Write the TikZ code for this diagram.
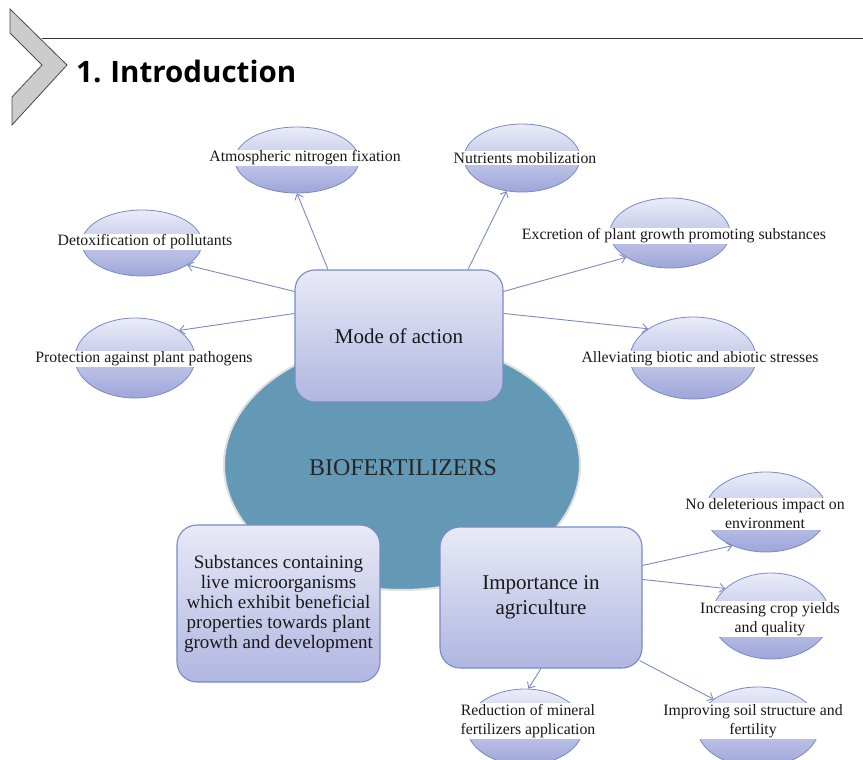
\documentclass[tikz,border=0pt]{standalone}
\usepackage{fontspec}
\setmainfont{Liberation Serif}
\newfontfamily\titlefont{Open Sans}
\usetikzlibrary{shapes.geometric,arrows.meta,shadings,calc}
\definecolor{lavtop}{RGB}{234,236,248}
\definecolor{lavbot}{RGB}{158,166,218}
\definecolor{lavline}{RGB}{122,138,196}
\definecolor{boxtop}{RGB}{232,234,247}
\definecolor{boxbot}{RGB}{176,182,224}
\definecolor{bioteal}{RGB}{100,153,181}
\definecolor{chevgray}{RGB}{204,204,204}
\begin{document}
\begin{tikzpicture}[x=1pt,y=-1pt,
  oval/.style={ellipse, draw=lavline, line width=0.8pt, top color=lavtop, bottom color=lavbot, inner sep=0pt},
  lbl/.style={fill=white, inner sep=1.2pt, font=\fontsize{15.8}{19}\selectfont, align=center, text=black!90},
  bigbox/.style={draw=lavline, line width=1.1pt, rounded corners=20pt, top color=boxtop, bottom color=boxbot, align=center, inner sep=0pt, text=black!90},
  arr/.style={draw=lavline, line width=0.9pt, -{Straight Barb[length=5pt,width=9pt]}}]
\useasboundingbox (0,0) rectangle (863,760);

% header
\draw[black!80, line width=1pt] (42,39) coordinate (hl) -- (863,39) coordinate (hr);
\filldraw[fill=chevgray, draw=black!70, line width=0.8pt] (10,9) -- (67,65) -- (12,125) -- (12,97) -- (42,65) -- (10,33) -- cycle;
\node[anchor=west, inner sep=0pt, font=\titlefont\bfseries\fontsize{29.5}{33}\selectfont] (title) at (76,71) {1.\hspace{9pt}Introduction};

% central ellipse
\node[ellipse, fill=bioteal, draw=black!12, line width=2pt, minimum width=356pt, minimum height=250pt] (bio) at (402,465) {};
\node[font=\fontsize{24}{28}\selectfont, text=black!85] (bioT) at (403,468) {BIOFERTILIZERS};

% boxes
\node[bigbox, minimum width=208pt, minimum height=132pt, font=\fontsize{21}{25}\selectfont] (mode) at (399,336) {Mode of action};
\node[bigbox, minimum width=203pt, minimum height=157pt, font=\fontsize{19}{20}\selectfont] (subs) at (278.5,603.5) {Substances containing\\live microorganisms\\which exhibit beneficial\\properties towards plant\\growth and development};
\node[bigbox, minimum width=202pt, minimum height=141pt, font=\fontsize{21}{25}\selectfont] (impo) at (541,597.5) {Importance in\\agriculture};

% small ellipses
\node[oval, minimum width=124pt, minimum height=66pt] (atmE) at (297,160) {};
\node[oval, minimum width=116pt, minimum height=68pt] (nutE) at (522,158) {};
\node[oval, minimum width=120pt, minimum height=66pt] (detE) at (142,243) {};
\node[oval, minimum width=120pt, minimum height=80pt] (proE) at (135,358) {};
\node[oval, minimum width=120pt, minimum height=70pt] (excE) at (670,233) {};
\node[oval, minimum width=126pt, minimum height=82pt] (allE) at (693,358) {};
\node[oval, minimum width=122pt, minimum height=80pt] (nodE) at (766,512) {};
\node[oval, minimum width=118pt, minimum height=86pt] (incE) at (771,616) {};
\node[oval, minimum width=116pt, minimum height=76pt] (redE) at (525,727) {};
\node[oval, minimum width=122pt, minimum height=80pt] (impE) at (758,727) {};

% labels
\node[lbl] (atmT) at (305,158) {Atmospheric nitrogen fixation};
\node[lbl] (nutT) at (525,158) {Nutrients mobilization};
\node[lbl] (detT) at (145,242) {Detoxification of pollutants};
\node[lbl] (proT) at (144,359) {Protection against plant pathogens};
\node[lbl] (excT) at (674,236) {Excretion of plant growth promoting substances};
\node[lbl] (allT) at (700,359) {Alleviating biotic and abiotic stresses};
\node[lbl] (nodT) at (765,514) {No deleterious impact on\\environment};
\node[lbl] (incT) at (770,619) {Increasing crop yields\\and quality};
\node[lbl] (redT) at (528,721) {Reduction of mineral\\fertilizers application};
\node[lbl] (impT) at (753,721) {Improving soil structure and\\fertility};

% connectors
\draw[arr] ($(mode.north)+(-71,0)$) -- (atmE.south);
\draw[arr] ($(mode.north)+(69,0)$) -- (nutE.-115);
\draw[arr] ($(mode.north west)+(0,22)$) -- (detE.-26);
\draw[arr] ($(mode.north west)+(0,44)$) -- (proE.32);
\draw[arr] ($(mode.north east)+(0,22)$) -- (excE.-151);
\draw[arr] ($(mode.north east)+(0,44)$) -- (allE.147);
\draw[arr] ($(impo.north east)+(0,39)$) -- (nodE.-135);
\draw[arr] ($(impo.north east)+(0,53)$) -- (incE.149);
\draw[arr] (impo.south) -- (redE.85);
\draw[arr] ($(impo.south east)+(-3,-8)$) -- (impE.148);
\end{tikzpicture}
\end{document}
